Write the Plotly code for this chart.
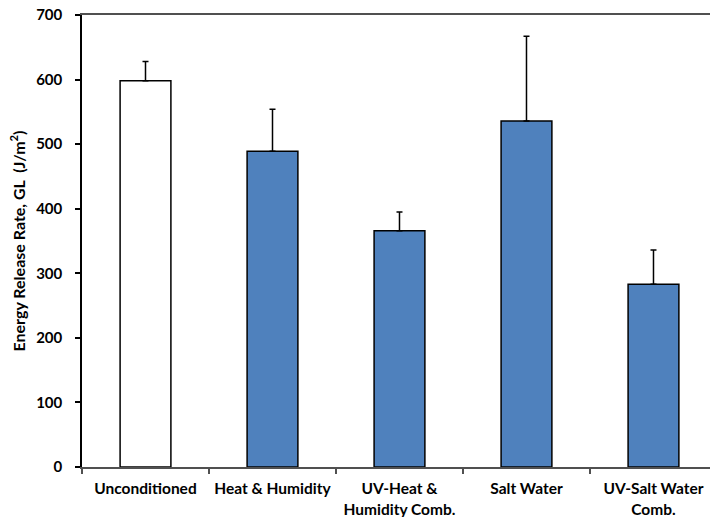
import plotly.graph_objects as go

categories = ["Unconditioned", "Heat & Humidity", "UV-Heat &<br>Humidity Comb.", "Salt Water", "UV-Salt Water<br>Comb."]
values = [598, 489, 366, 536, 283]
errors_plus = [30, 65, 29, 131, 53]
bar_colors = ["#FFFFFF", "#4F81BD", "#4F81BD", "#4F81BD", "#4F81BD"]
y_ticks = [0, 100, 200, 300, 400, 500, 600, 700]

font_family = "Lato, 'Open Sans', sans-serif"

fig = go.Figure()
fig.add_trace(go.Bar(
    x=categories,
    y=values,
    width=0.4,
    marker=dict(color=bar_colors, line=dict(color="#000000", width=1.5)),
    error_y=dict(type="data", symmetric=False, array=errors_plus,
                 arrayminus=[0] * len(values), color="#000000",
                 thickness=1.5, width=3),
    showlegend=False,
    hoverinfo="skip",
))

fig.update_layout(
    width=710, height=517,
    margin=dict(l=82, r=0, t=15, b=50),
    paper_bgcolor="white", plot_bgcolor="white",
    font=dict(family=font_family, size=15, color="#000000"),
)
fig.update_xaxes(
    type="category",
    range=[-0.5, 4.445],
    automargin=False,
    showline=True, linecolor="#505050", linewidth=1.5, mirror=True,
    ticks="outside", ticklen=5, tickcolor="#505050", tickwidth=1.5,
    tickson="boundaries",
    showgrid=False,
    tickfont=dict(family=font_family, size=15.5, color="#000000", weight="bold"),
    ticklabelstandoff=7,
    ticklabeloverflow="allow",
)
fig.update_yaxes(
    range=[0, 700],
    automargin=False,
    tickvals=y_ticks,
    showline=True, linecolor="#000000", linewidth=1.5,
    ticks="outside", ticklen=5, tickcolor="#000000", tickwidth=1.5,
    showgrid=False, zeroline=False,
    tickfont=dict(family=font_family, size=15, color="#000000", weight="bold"),
    ticklabelstandoff=10,
    ticklabeloverflow="allow",
    title=dict(text="Energy Release Rate, GL  (J/m<sup>2</sup>)",
               font=dict(family=font_family, size=16, color="#000000", weight="bold"),
               standoff=7),
)

fig.write_html("out.html",
               config={"displayModeBar": False},
               post_script="document.body.style.margin='0';document.body.style.overflow='hidden';")
